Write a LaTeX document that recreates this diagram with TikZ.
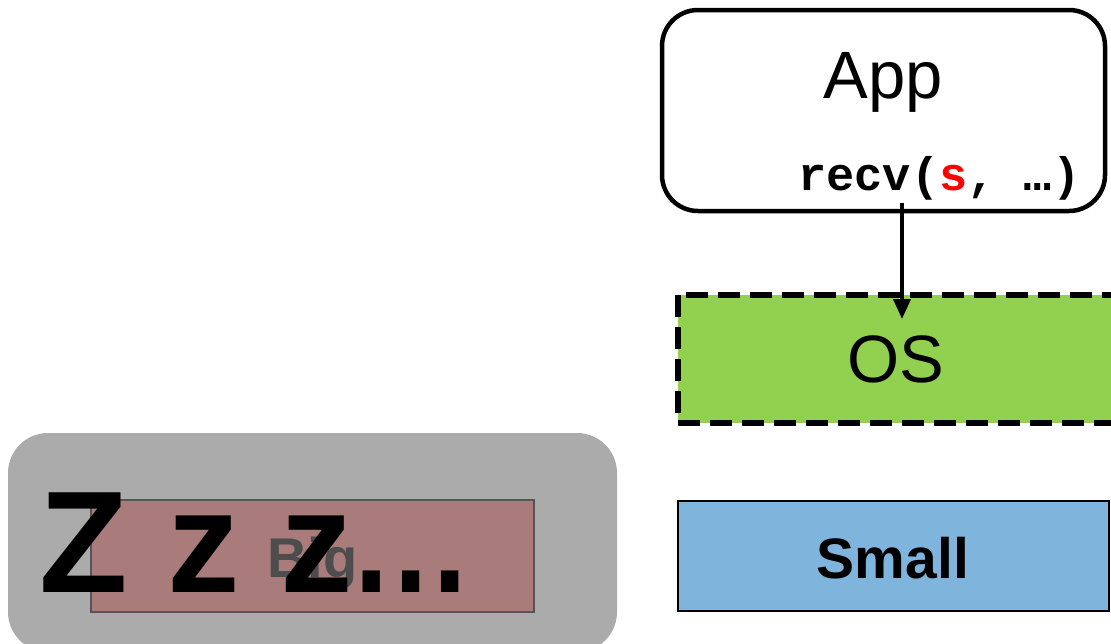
\documentclass[tikz,border=0pt]{standalone}
\usepackage{fontspec}
\setmainfont{Liberation Sans}
\newfontfamily\codefont{Liberation Mono}
\usetikzlibrary{arrows.meta}
\definecolor{osgreen}{HTML}{92D050}
\definecolor{smallblue}{HTML}{7FB5DD}
\definecolor{bigpink}{HTML}{A97B7B}
\definecolor{sleepgray}{HTML}{ABABAB}
\definecolor{dimtext}{HTML}{4D4D4D}
\definecolor{dimedge}{HTML}{555555}
\begin{document}
\begin{tikzpicture}[x=1pt, y=-1pt]
\useasboundingbox (0,0) rectangle (1111,643);

% sleeping core with the big buffer
\draw[fill=sleepgray, draw=none, rounded corners=40pt] (8,433) rectangle (617,652);
\draw[fill=bigpink, draw=dimedge, line width=2pt] (91,500) rectangle (534,612);
\node[font=\fontsize{56}{56}\selectfont\bfseries, text=dimtext, anchor=base] (big) at (312.5,577) {Big};
\node[font=\fontsize{145}{145}\selectfont\bfseries, anchor=base west, inner sep=0pt] (zzz) at (39,592) {Z z z\kern-4pt\scalebox{0.85}[1]{…}};

% application
\draw[line width=4.5pt, rounded corners=36pt, fill=white] (662,10) rectangle (1105,211);
\node[font=\fontsize{67}{67}\selectfont, anchor=base] (app) at (883,98) {App};
\node[font=\fontsize{47}{47}\selectfont\codefont\bfseries, anchor=base west, inner sep=0pt] (recv) at (798,190) {recv(\textcolor{red}{s}, …)};

% operating system layer
\draw[fill=osgreen, line width=5.5pt, dash pattern=on 22pt off 10pt] (678,295) rectangle (1125,423);
\node[font=\fontsize{67}{67}\selectfont, anchor=base] (os) at (896,382) {OS};

% small buffer
\draw[fill=smallblue, draw=black, line width=2pt] (678,501) rectangle (1109,611);
\node[font=\fontsize{57}{57}\selectfont\bfseries, anchor=base] (small) at (893,578) {Small};

% recv call into the OS
\coordinate (callstart) at (902,203);
\coordinate (callend) at (902,319);
\draw[line width=4pt, -{Triangle[length=20pt, width=17pt]}] (callstart) -- (callend);
\end{tikzpicture}
\end{document}
